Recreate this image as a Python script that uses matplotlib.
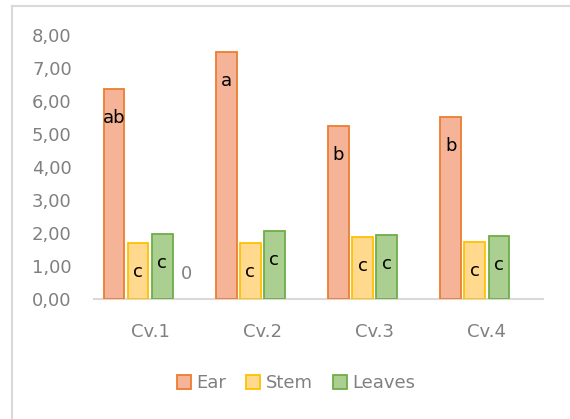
import numpy as np
import matplotlib
matplotlib.use("Agg")
import matplotlib.pyplot as plt
from matplotlib.lines import Line2D
from matplotlib.ticker import FuncFormatter

plt.rcParams['font.family'] = ['DejaVu Sans']

cultivars = ["Cv.1", "Cv.2", "Cv.3", "Cv.4"]
series_names = ["Ear", "Stem", "Leaves"]
ear = [6.35, 7.50, 5.23, 5.53]
stem = [1.71, 1.69, 1.88, 1.74]
leaves = [1.98, 2.07, 1.95, 1.90]
ear_letters = ["ab", "a", "b", "b"]
stem_letters = ["c", "c", "c", "c"]
leaves_letters = ["c", "c", "c", "c"]
# empty fourth series that only shows a 0 label on Cv.1
extra = [0, None, None, None]

fills = ["#F5B497", "#FFD98E", "#AACF90"]
edges = ["#ED7D31", "#FFC000", "#70AD47"]
gray = "#808080"

fig = plt.figure(figsize=(5.7, 4.19), dpi=100)
ax = fig.add_axes([94 / 570, 1 - 299 / 419, 449 / 570, 264 / 419])

x = np.arange(len(cultivars))
slot = 0.214
width = 0.185
offsets = np.array([-1.5, -0.5, 0.5, 1.5]) * slot

all_vals = [ear, stem, leaves]
all_letters = [ear_letters, stem_letters, leaves_letters]
for i, vals in enumerate(all_vals):
    bars = ax.bar(x + offsets[i], vals, width, color=fills[i], edgecolor=edges[i],
                  linewidth=1.3, label=series_names[i], zorder=2)
    for xi, v, lab in zip(x + offsets[i], vals, all_letters[i]):
        ax.annotate(lab, xy=(xi, v), xytext=(0, -29), textcoords="offset pixels",
                    ha="center", va="center", fontsize=13, color="black", zorder=3)

for xi, v in zip(x + offsets[3], extra):
    if v is None:
        continue
    ax.annotate(str(v), xy=(xi, v), xytext=(0, 25), textcoords="offset pixels",
                ha="center", va="center", fontsize=13, color=gray)

ax.set_xlim(-0.5, len(cultivars) - 0.5)
ax.set_ylim(0, 8)
ax.set_yticks(np.arange(0, 9, 1))
ax.yaxis.set_major_formatter(FuncFormatter(lambda v, p: f"{v:.2f}".replace(".", ",")))
ax.set_xticks(x)
ax.set_xticklabels(cultivars)
ax.tick_params(axis="both", length=0, labelsize=13, labelcolor=gray)
ax.tick_params(axis="y", pad=16)
ax.tick_params(axis="x", pad=17)

for s in ["top", "right", "left"]:
    ax.spines[s].set_visible(False)
ax.spines["bottom"].set_color("#D9D9D9")
ax.spines["bottom"].set_linewidth(1.5)
ax.spines["bottom"].set_zorder(1)

# chart area border (only top and left are inside the picture)
fig.add_artist(Line2D([12 / 570, 12 / 570], [0, 1 - 6 / 419], color="#D9D9D9", lw=1.5))
fig.add_artist(Line2D([12 / 570, 1], [1 - 6 / 419, 1 - 6 / 419], color="#D9D9D9", lw=1.5))

fig.legend(loc="center", bbox_to_anchor=(296 / 570, 1 - 383 / 419), ncol=3, frameon=False,
           fontsize=13, labelcolor=gray, handlelength=0.78, handleheight=0.78,
           handletextpad=0.3, columnspacing=1.1)

fig.savefig("out.png", dpi=100)
